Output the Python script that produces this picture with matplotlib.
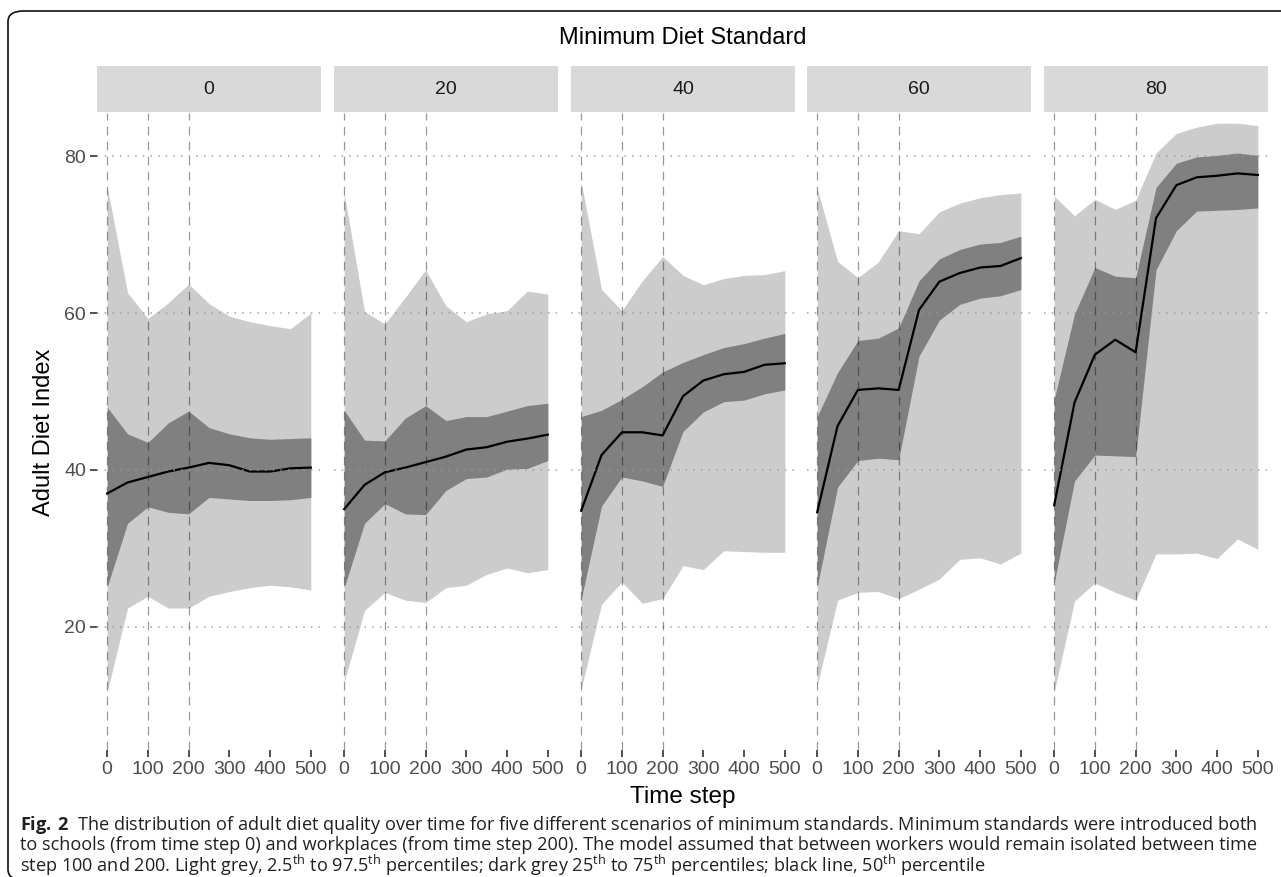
import numpy as np
import matplotlib.pyplot as plt
from matplotlib.patches import FancyBboxPatch, Rectangle

plt.rcParams['font.family'] = ['Liberation Sans', 'DejaVu Sans']
plt.rcParams['mathtext.fontset'] = 'custom'
plt.rcParams['mathtext.rm'] = 'Open Sans'
plt.rcParams['mathtext.bf'] = 'Open Sans:bold'

# scenarios (minimum diet standard) and time steps
standards = ['0', '20', '40', '60', '80']
time_steps = [0, 50, 100, 150, 200, 250, 300, 350, 400, 450, 500]
policy_steps = [0, 100, 200]

# percentiles, one row per scenario
q025 = [
    [11.7, 22.4, 23.9, 22.4, 22.4, 23.9, 24.5, 25.0, 25.3, 25.1, 24.7],
    [13.0, 22.1, 24.4, 23.4, 23.1, 25.0, 25.3, 26.7, 27.5, 26.9, 27.3],
    [12.1, 22.9, 25.7, 23.0, 23.6, 27.8, 27.3, 29.7, 29.6, 29.5, 29.5],
    [12.5, 23.4, 24.4, 24.5, 23.6, 24.8, 26.1, 28.6, 28.8, 28.0, 29.4],
    [11.7, 23.3, 25.6, 24.4, 23.4, 29.3, 29.3, 29.4, 28.7, 31.2, 29.9],
]
q25 = [
    [25.1, 33.2, 35.3, 34.6, 34.4, 36.5, 36.3, 36.1, 36.1, 36.2, 36.5],
    [25.0, 33.2, 35.7, 34.4, 34.3, 37.4, 38.9, 39.1, 40.1, 40.2, 41.2],
    [23.5, 35.4, 39.1, 38.6, 37.9, 44.9, 47.4, 48.7, 48.9, 49.7, 50.2],
    [25.1, 37.8, 41.2, 41.5, 41.3, 54.5, 59.1, 61.1, 61.9, 62.2, 63.0],
    [25.6, 38.6, 41.9, 41.8, 41.7, 65.5, 70.5, 73.0, 73.1, 73.2, 73.4],
]
q50 = [
    [37.0, 38.4, 39.1, 39.8, 40.3, 40.9, 40.6, 39.8, 39.8, 40.2, 40.3],
    [35.0, 38.1, 39.7, 40.3, 41.0, 41.7, 42.6, 42.9, 43.6, 44.0, 44.5],
    [34.8, 41.9, 44.8, 44.8, 44.4, 49.4, 51.4, 52.2, 52.5, 53.4, 53.6],
    [34.6, 45.6, 50.2, 50.4, 50.2, 60.4, 64.0, 65.1, 65.8, 66.0, 67.0],
    [35.5, 48.6, 54.7, 56.6, 55.0, 72.1, 76.3, 77.3, 77.5, 77.8, 77.6],
]
q75 = [
    [48.0, 44.6, 43.5, 46.0, 47.5, 45.4, 44.6, 44.1, 43.9, 44.0, 44.1],
    [47.6, 43.8, 43.7, 46.6, 48.2, 46.3, 46.8, 46.8, 47.5, 48.2, 48.5],
    [46.8, 47.6, 49.0, 50.6, 52.5, 53.7, 54.7, 55.6, 56.1, 56.8, 57.4],
    [46.8, 52.4, 56.5, 56.8, 58.1, 64.1, 66.9, 68.1, 68.8, 69.0, 69.8],
    [49.0, 59.9, 65.8, 64.7, 64.5, 76.0, 79.1, 79.9, 80.1, 80.4, 80.1],
]
q975 = [
    [76.1, 62.6, 59.3, 61.3, 63.7, 61.2, 59.6, 58.9, 58.4, 58.0, 60.0],
    [75.3, 60.2, 58.6, 62.0, 65.5, 60.9, 58.9, 59.9, 60.3, 62.8, 62.4],
    [76.7, 63.0, 60.3, 64.1, 67.2, 64.8, 63.6, 64.4, 64.8, 64.9, 65.4],
    [75.9, 66.6, 64.5, 66.5, 70.5, 70.1, 72.9, 74.0, 74.7, 75.1, 75.3],
    [74.9, 72.4, 74.5, 73.2, 74.4, 80.4, 82.9, 83.7, 84.2, 84.2, 83.9],
]

W, H = 1281, 877
fig = plt.figure(figsize=(W / 100, H / 100), dpi=100)

def fx(px):
    return px / W

def fy(py):
    return 1 - py / H

# outer rounded frame (runs off the right and bottom edges)
fig.patches.append(FancyBboxPatch((fx(8), fy(880)), fx(1500), (880 - 11) / H,
                                  boxstyle='round,pad=0,rounding_size=0.012',
                                  transform=fig.transFigure, fill=False,
                                  ec='#111111', lw=1.2))

panel_left = [97, 334, 571, 807, 1044]
panel_w = 224
p_top, p_bot = 113, 750
strip_top = 66

for i, lab in enumerate(standards):
    ax = fig.add_axes([fx(panel_left[i]), fy(p_bot), fx(panel_w), (p_bot - p_top) / H])
    ax.fill_between(time_steps, q025[i], q975[i], color='#cccccc', lw=0, zorder=1)
    ax.fill_between(time_steps, q25[i], q75[i], color='#808080', lw=0, zorder=2)
    ax.plot(time_steps, q50[i], color='black', lw=1.6, zorder=3)
    for yv in [20, 40, 60, 80]:
        ax.axhline(yv, color='#999999', lw=1.1, ls=(0, (1, 4)), zorder=4, alpha=0.9)
    for xv in policy_steps:
        ax.axvline(xv, color='black', alpha=0.4, lw=0.9, ls=(0, (7, 5)), zorder=4)
    ax.set_xlim(-25, 525)
    ax.set_ylim(4.3, 85.5)
    ax.set_xticks([0, 100, 200, 300, 400, 500])
    ax.set_yticks([20, 40, 60, 80])
    for s in ax.spines.values():
        s.set_visible(False)
    ax.tick_params(direction='out', length=5, width=1.2, color='#333333',
                   labelsize=14, labelcolor='#4d4d4d', pad=3)
    if i > 0:
        ax.tick_params(left=False, labelleft=False)

    # facet strip
    fig.patches.append(Rectangle((fx(panel_left[i]), fy(p_top - 1)), fx(panel_w),
                                 (p_top - 1 - strip_top) / H, transform=fig.transFigure,
                                 color='#d9d9d9', lw=0))
    fig.text(fx(panel_left[i] + panel_w / 2), fy((strip_top + p_top) / 2), lab,
             ha='center', va='center', fontsize=14, color='#1a1a1a')

mid_x = (panel_left[0] + panel_left[-1] + panel_w) / 2
fig.text(fx(mid_x), fy(38), 'Minimum Diet Standard', ha='center', va='center',
         fontsize=17, color='black')
fig.text(fx(mid_x), fy(797), 'Time step', ha='center', va='center',
         fontsize=17.5, color='black')
fig.text(fx(44), fy(432), 'Adult Diet Index', ha='center', va='center',
         rotation=90, fontsize=17, color='black')

cap = dict(fontsize=13.1, color='#231f20', family=['Open Sans', 'DejaVu Sans'],
           ha='left', va='center')
fig.text(fx(20), fy(825), r'$\mathbf{Fig.\,2}$  The distribution of adult diet quality over time '
         'for five different scenarios of minimum standards. Minimum standards were introduced both',
         **cap)
fig.text(fx(20), fy(845), 'to schools (from time step 0) and workplaces (from time step 200). '
         'The model assumed that between workers would remain isolated between time', **cap)
fig.text(fx(20), fy(865), r'step 100 and 200. Light grey, 2.5$^{\mathrm{th}}$ to 97.5$^{\mathrm{th}}$ '
         r'percentiles; dark grey 25$^{\mathrm{th}}$ to 75$^{\mathrm{th}}$ percentiles; '
         r'black line, 50$^{\mathrm{th}}$ percentile', **cap)

fig.savefig('out.png', dpi=100)
